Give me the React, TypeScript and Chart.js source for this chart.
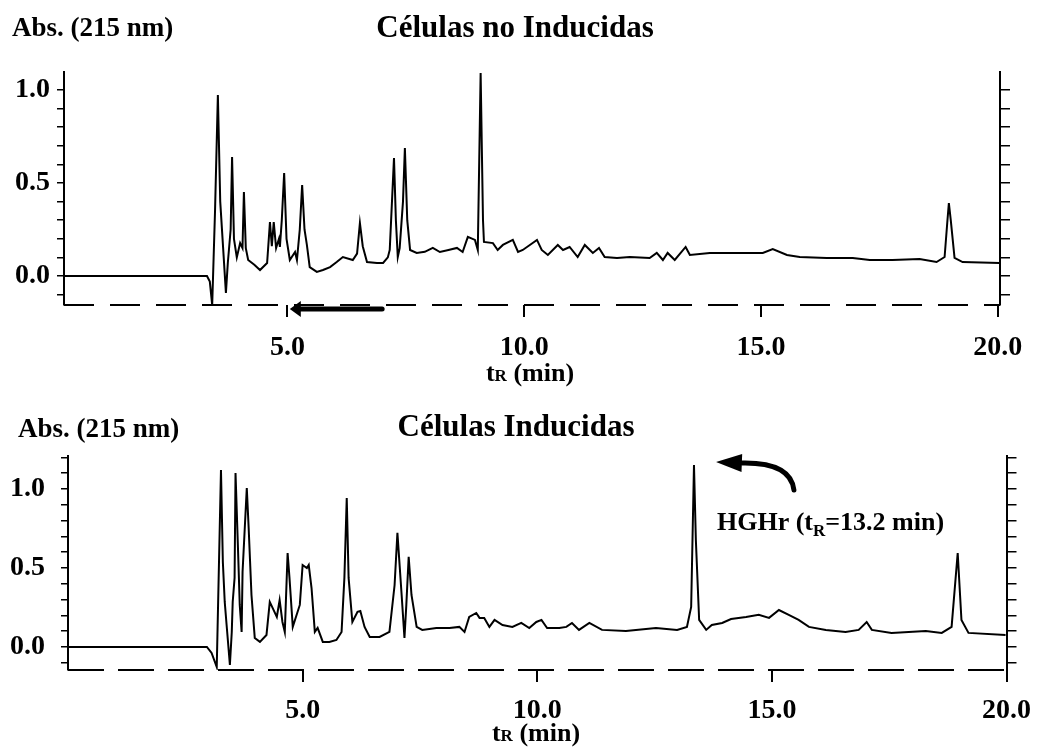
import React, { useEffect, useRef } from 'react';
import { Chart, registerables } from 'chart.js';

Chart.register(...registerables);

const FONT = '"Liberation Serif", "Times New Roman", serif';

// ---------- data ----------
const X_TICKS = [5, 10, 15, 20];
const Y_LABELED = [0, 0.5, 1.0];
const TOP_Y_TICKS = [-0.1, 0, 0.1, 0.2, 0.3, 0.4, 0.5, 0.6, 0.7, 0.8, 0.9, 1.0];
const BOTTOM_Y_TICKS = [-0.1, 0, 0.1, 0.2, 0.3, 0.4, 0.5, 0.6, 0.7, 0.8, 0.9, 1.0, 1.1, 1.2];

// Células no Inducidas
const TOP_TIME = [
  0.28, 3.30, 3.36, 3.41, 3.47, 3.53, 3.58, 3.70, 3.74, 3.80, 3.83, 3.87, 3.93, 4.00, 4.05, 4.08, 4.12, 4.17,
  4.30, 4.42, 4.57, 4.63, 4.67, 4.71, 4.76, 4.82, 4.84, 4.88, 4.93, 4.98, 5.05, 5.16, 5.20, 5.26, 5.31, 5.36,
  5.41, 5.47, 5.62, 5.75, 5.90, 6.04, 6.17, 6.38, 6.47, 6.53, 6.59, 6.68, 6.89, 7.02, 7.12, 7.16, 7.25, 7.29,
  7.33, 7.37, 7.44, 7.48, 7.53, 7.59, 7.73, 7.90, 8.07, 8.22, 8.40, 8.58, 8.70, 8.81, 8.96, 9.02, 9.08, 9.13,
  9.15, 9.34, 9.44, 9.55, 9.76, 9.87, 9.97, 10.27, 10.37, 10.50, 10.71, 10.82, 10.96, 11.13, 11.28, 11.45,
  11.58, 11.70, 11.96, 12.23, 12.65, 12.80, 12.93, 13.03, 13.18, 13.41, 13.50, 13.92, 14.28, 15.04, 15.25,
  15.55, 15.82, 16.39, 16.94, 17.30, 17.78, 18.35, 18.71, 18.88, 18.94, 18.97, 19.01, 19.09, 19.26, 20.04,
];
const TOP_ABS = [
  0, 0, -0.03, -0.156, 0.35, 0.973, 0.40, -0.091, 0.07, 0.25, 0.64, 0.2, 0.10, 0.177, 0.15, 0.452, 0.15, 0.086,
  0.06, 0.032, 0.07, 0.29, 0.16, 0.29, 0.15, 0.20, 0.156, 0.30, 0.554, 0.20, 0.086, 0.129, 0.086, 0.25, 0.489, 0.25,
  0.167, 0.048, 0.022, 0.032, 0.048, 0.075, 0.102, 0.086, 0.12, 0.285, 0.16, 0.075, 0.07, 0.07, 0.10, 0.14, 0.634, 0.30,
  0.102, 0.15, 0.40, 0.688, 0.30, 0.14, 0.124, 0.13, 0.151, 0.129, 0.14, 0.151, 0.129, 0.21, 0.194, 0.14, 1.091, 0.30,
  0.183, 0.177, 0.14, 0.167, 0.194, 0.129, 0.14, 0.194, 0.14, 0.113, 0.167, 0.14, 0.156, 0.102, 0.167, 0.124,
  0.151, 0.102, 0.097, 0.102, 0.097, 0.124, 0.086, 0.124, 0.086, 0.156, 0.113, 0.124, 0.124, 0.124, 0.145,
  0.113, 0.102, 0.097, 0.097, 0.086, 0.086, 0.091, 0.075, 0.102, 0.30, 0.392, 0.30, 0.097, 0.075, 0.07,
];

// Células Inducidas
const BOT_TIME = [
  0, 2.96, 3.06, 3.17, 3.26, 3.30, 3.34, 3.38, 3.45, 3.49, 3.51, 3.55, 3.57, 3.62, 3.66, 3.70, 3.72, 3.81, 3.85,
  3.91, 3.98, 4.09, 4.23, 4.30, 4.36, 4.45, 4.51, 4.57, 4.62, 4.68, 4.72, 4.79, 4.94, 5.00, 5.09, 5.13, 5.19,
  5.26, 5.32, 5.43, 5.57, 5.72, 5.83, 5.89, 5.94, 5.98, 6.06, 6.17, 6.23, 6.32, 6.43, 6.64, 6.85, 6.96, 7.02,
  7.11, 7.17, 7.21, 7.26, 7.32, 7.43, 7.55, 7.85, 8.13, 8.34, 8.45, 8.55, 8.70, 8.77, 8.87, 8.98, 9.09, 9.26,
  9.47, 9.66, 9.83, 9.98, 10.09, 10.21, 10.47, 10.62, 10.74, 10.89, 11.11, 11.38, 11.89, 12.53, 12.98, 13.19,
  13.28, 13.34, 13.38, 13.45, 13.60, 13.72, 13.94, 14.13, 14.45, 14.72, 14.94, 15.15, 15.36, 15.57, 15.79,
  16.15, 16.57, 16.85, 17.02, 17.13, 17.55, 18.28, 18.62, 18.83, 18.96, 19.04, 19.19, 19.98,
];
const BOT_ABS = [
  0, 0, -0.038, -0.127, 1.12, 0.538, 0.285, 0.139, -0.114, 0.095, 0.285, 0.437, 1.101, 0.646, 0.266, 0.095, 0.475, 1.006, 0.753,
  0.329, 0.057, 0.032, 0.076, 0.285, 0.247, 0.19, 0.297, 0.158, 0.095, 0.595, 0.437, 0.127, 0.266, 0.519, 0.50, 0.519, 0.373,
  0.095, 0.12, 0.032, 0.032, 0.044, 0.095, 0.437, 0.943, 0.437, 0.158, 0.222, 0.228, 0.127, 0.063, 0.063, 0.095, 0.392, 0.722,
  0.329, 0.057, 0.266, 0.57, 0.329, 0.127, 0.108, 0.12, 0.12, 0.127, 0.095, 0.19, 0.215, 0.184, 0.184, 0.127, 0.171, 0.139,
  0.127, 0.152, 0.12, 0.158, 0.171, 0.12, 0.12, 0.127, 0.152, 0.108, 0.152, 0.108, 0.101, 0.12, 0.108, 0.127,
  0.253, 1.152, 0.677, 0.171, 0.108, 0.139, 0.152, 0.177, 0.19, 0.203, 0.184, 0.234, 0.203, 0.171, 0.127,
  0.108, 0.095, 0.108, 0.158, 0.108, 0.089, 0.101, 0.089, 0.127, 0.595, 0.171, 0.089, 0.076,
];

// annotations, in data units (time, absorbance)
const TOP_ARROW = { fromTime: 7.0, toTime: 5.05, level: -0.177 };
const HGHR_ARROW = { tail: [15.47, 0.994], ctrl: [15.4, 1.171], end: [14.36, 1.165], tip: [13.81, 1.171] };
const HGHR_LABEL = { time: 13.83, abs: 0.74 };

type Run = [string, number, number];

function drawRuns(ctx: CanvasRenderingContext2D, runs: Run[], x: number, y: number, align: 'left' | 'center') {
  ctx.save();
  ctx.fillStyle = '#000';
  ctx.textBaseline = 'alphabetic';
  ctx.textAlign = 'left';
  const widths = runs.map((r) => {
    ctx.font = `bold ${r[1]}px ${FONT}`;
    return ctx.measureText(r[0]).width;
  });
  const total = widths.reduce((a, b) => a + b, 0);
  let cx = align === 'center' ? x - total / 2 : x;
  runs.forEach((r, i) => {
    ctx.font = `bold ${r[1]}px ${FONT}`;
    ctx.fillText(r[0], cx, y + r[2]);
    cx += widths[i];
  });
  ctx.restore();
}

interface Spec {
  top: number;
  h: number;
  time: number[];
  abs: number[];
  yTicks: number[];
  xMin: number;
  xMax: number;
  yMin: number;
  yMax: number;
  padTop: number;
  leftW: number;
  rightW: number;
  xH: number;
  xPad: number;
  yPad: number;
  title: string;
  titlePos: [number, number];
  absPos: [number, number];
  axisTitlePos: [number, number];
  dash: number[];
  kind: 'top' | 'bottom';
}

const SPECS: Spec[] = [
  {
    top: 0, h: 392, time: TOP_TIME, abs: TOP_ABS, yTicks: TOP_Y_TICKS,
    xMin: 0.28, xMax: 20.05, yMin: -0.156, yMax: 1.097,
    padTop: 72, leftW: 64, rightW: 43, xH: 87, xPad: 14, yPad: 7,
    title: 'Células no Inducidas', titlePos: [515, 37], absPos: [12, 36], axisTitlePos: [530, 381],
    dash: [30, 16], kind: 'top',
  },
  {
    top: 375, h: 374, time: BOT_TIME, abs: BOT_ABS, yTicks: BOTTOM_Y_TICKS,
    xMin: 0, xMax: 20, yMin: -0.146, yMax: 1.209,
    padTop: 81, leftW: 68, rightW: 35, xH: 79, xPad: 12, yPad: 16,
    title: 'Células Inducidas', titlePos: [516, 61], absPos: [18, 62], axisTitlePos: [536, 366],
    dash: [36, 14], kind: 'bottom',
  },
];

function overlayPlugin(spec: Spec) {
  return {
    id: 'overlay_' + spec.kind,
    afterDraw(chart: any) {
      const ctx: CanvasRenderingContext2D = chart.ctx;
      const sx = chart.scales.x;
      const sy = chart.scales.y;
      const area = chart.chartArea;

      // dashed time axis line (scanned trace of the baseline axis)
      ctx.save();
      ctx.strokeStyle = '#000';
      ctx.lineWidth = 2;
      ctx.setLineDash(spec.dash);
      ctx.beginPath();
      ctx.moveTo(area.left, area.bottom);
      ctx.lineTo(area.right, area.bottom);
      ctx.stroke();
      ctx.restore();

      drawRuns(ctx, [['Abs. (215 nm)', 27, 0]], spec.absPos[0], spec.absPos[1], 'left');
      drawRuns(ctx, [[spec.title, 31, 0]], spec.titlePos[0], spec.titlePos[1], 'center');
      drawRuns(ctx, [['t', 26, 0], ['R', 17, 0], [' (min)', 26, 0]], spec.axisTitlePos[0], spec.axisTitlePos[1], 'center');

      ctx.save();
      ctx.fillStyle = '#000';
      ctx.strokeStyle = '#000';
      if (spec.kind === 'top') {
        const y = sy.getPixelForValue(TOP_ARROW.level);
        const xt = sx.getPixelForValue(TOP_ARROW.fromTime);
        const xh = sx.getPixelForValue(TOP_ARROW.toTime);
        ctx.lineWidth = 5;
        ctx.lineCap = 'round';
        ctx.beginPath();
        ctx.moveTo(xt, y);
        ctx.lineTo(xh + 8, y);
        ctx.stroke();
        ctx.beginPath();
        ctx.moveTo(xh, y);
        ctx.lineTo(xh + 11, y - 8);
        ctx.lineTo(xh + 11, y + 8);
        ctx.closePath();
        ctx.fill();
      } else {
        const p = (v: number[]) => [sx.getPixelForValue(v[0]), sy.getPixelForValue(v[1])];
        const [x0, y0] = p(HGHR_ARROW.tail);
        const [cx, cy] = p(HGHR_ARROW.ctrl);
        const [x2, y2] = p(HGHR_ARROW.end);
        const [xt, yt] = p(HGHR_ARROW.tip);
        ctx.lineWidth = 5;
        ctx.lineCap = 'round';
        ctx.beginPath();
        ctx.moveTo(x0, y0);
        ctx.quadraticCurveTo(cx, cy, x2, y2);
        ctx.stroke();
        const dx = xt - x2;
        const dy = yt - y2;
        const len = Math.hypot(dx, dy) || 1;
        const nx = -dy / len;
        const ny = dx / len;
        ctx.beginPath();
        ctx.moveTo(xt, yt);
        ctx.lineTo(x2 + nx * 9, y2 + ny * 9);
        ctx.lineTo(x2 - nx * 9, y2 - ny * 9);
        ctx.closePath();
        ctx.fill();
        drawRuns(
          ctx,
          [['HGHr (t', 26, 0], ['R', 17, 6], ['=13.2 min)', 26, 0]],
          sx.getPixelForValue(HGHR_LABEL.time),
          sy.getPixelForValue(HGHR_LABEL.abs),
          'left'
        );
      }
      ctx.restore();
    },
  };
}

function buildConfig(spec: Spec): any {
  const tickFont = { family: FONT, size: 28, weight: 'bold' as const };
  const yLabel = (v: any) => (Y_LABELED.some((l) => Math.abs(l - Number(v)) < 1e-6) ? Number(v).toFixed(1) : '');
  const setYTicks = (s: any) => {
    s.ticks = spec.yTicks.map((v) => ({ value: v }));
  };
  return {
    type: 'line',
    data: {
      datasets: [
        {
          data: spec.time.map((t, i) => ({ x: t, y: spec.abs[i] })),
          borderColor: '#000',
          borderWidth: 2,
          pointRadius: 0,
          tension: 0,
          fill: false,
        },
      ],
    },
    options: {
      responsive: false,
      animation: false,
      events: [],
      layout: { padding: { top: spec.padTop, left: 0, right: 0, bottom: 0 } },
      plugins: { legend: { display: false }, tooltip: { enabled: false }, title: { display: false } },
      scales: {
        x: {
          type: 'linear',
          position: 'bottom',
          min: spec.xMin,
          max: spec.xMax,
          afterBuildTicks: (s: any) => {
            s.ticks = X_TICKS.map((v) => ({ value: v }));
          },
          afterFit: (s: any) => {
            s.height = spec.xH;
          },
          ticks: {
            callback: (v: any) => Number(v).toFixed(1),
            font: tickFont,
            color: '#000',
            padding: spec.xPad,
            maxRotation: 0,
            autoSkip: false,
          },
          grid: { display: true, drawOnChartArea: false, drawTicks: true, tickLength: 12, color: '#000', lineWidth: 2 },
          border: { display: false },
        },
        y: {
          type: 'linear',
          position: 'left',
          min: spec.yMin,
          max: spec.yMax,
          afterBuildTicks: setYTicks,
          afterFit: (s: any) => {
            s.width = spec.leftW;
          },
          ticks: { callback: yLabel, font: tickFont, color: '#000', padding: spec.yPad, autoSkip: false },
          grid: { display: true, drawOnChartArea: false, drawTicks: true, tickLength: 7, color: '#000', lineWidth: 1.5 },
          border: { display: true, color: '#000', width: 2 },
        },
        y2: {
          type: 'linear',
          position: 'right',
          min: spec.yMin,
          max: spec.yMax,
          afterBuildTicks: setYTicks,
          afterFit: (s: any) => {
            s.width = spec.rightW;
          },
          ticks: { display: false },
          grid: { display: true, drawOnChartArea: false, drawTicks: true, tickLength: 10, color: '#000', lineWidth: 1.5 },
          border: { display: true, color: '#000', width: 2 },
        },
      },
    },
    plugins: [overlayPlugin(spec)],
  };
}

function ChromCanvas({ spec }: { spec: Spec }) {
  const ref = useRef<HTMLCanvasElement | null>(null);
  useEffect(() => {
    if (!ref.current) return;
    const chart = new Chart(ref.current, buildConfig(spec));
    return () => chart.destroy();
  }, [spec]);
  return (
    <canvas
      ref={ref}
      width={1043}
      height={spec.h}
      style={{ position: 'absolute', left: 0, top: spec.top, width: 1043, height: spec.h, display: 'block' }}
    />
  );
}

export default function App() {
  return (
    <div style={{ position: 'absolute', left: 0, top: 0, width: 1043, height: 749, background: '#fff', overflow: 'hidden' }}>
      {SPECS.map((s) => (
        <ChromCanvas key={s.kind} spec={s} />
      ))}
    </div>
  );
}
